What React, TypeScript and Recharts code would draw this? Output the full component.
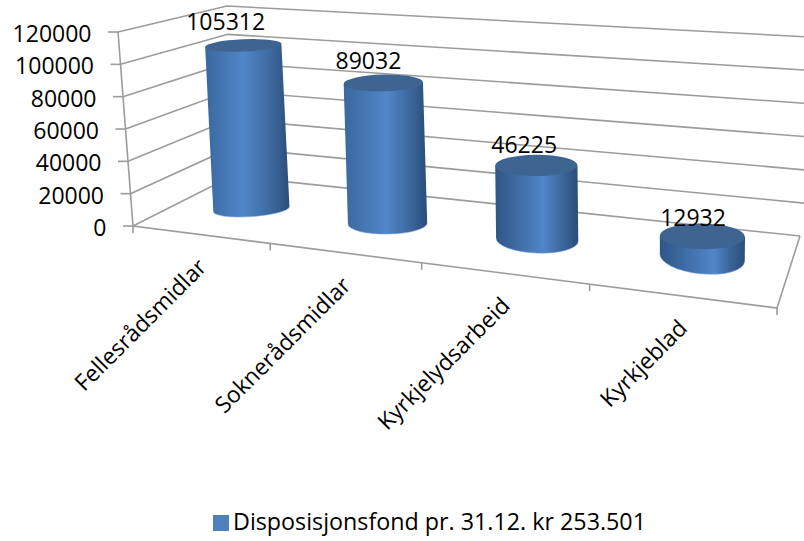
import { BarChart, Bar, XAxis, YAxis, CartesianGrid, Legend, LabelList } from "recharts"

const categories = ["Fellesrådsmidlar", "Soknerådsmidlar", "Kyrkjelydsarbeid", "Kyrkjeblad"]
const fondValues = [105312, 89032, 46225, 12932]
const yTicks = [0, 20000, 40000, 60000, 80000, 100000, 120000]
const seriesName = "Disposisjonsfond pr. 31.12. kr 253.501"

const rows = categories.map((name, i) => ({ name, value: fondValues[i] }))

const FONT = "'Open Sans', sans-serif"
const GRID = "#9c9c9c"
const PLOT_LEFT = 133
const PLOT_RIGHT = 777
const PLOT_TOP = 32
const PLOT_BOTTOM = 226
const PLOT_W = PLOT_RIGHT - PLOT_LEFT
const PLOT_H = PLOT_BOTTOM - PLOT_TOP
const BAR_DEPTH = 0.5

const lerp = (a: number, b: number, t: number) => a + (b - a) * t

// floor of the 3d box, front left / front right / back right / back left
const FL = [133, 226]
const FR = [777, 308]
const BR = [800, 236]
const BL = [232, 176]

const dx1 = FR[0] - BR[0]
const dx2 = BL[0] - BR[0]
const dx3 = FL[0] - FR[0] + BR[0] - BL[0]
const dy1 = FR[1] - BR[1]
const dy2 = BL[1] - BR[1]
const dy3 = FL[1] - FR[1] + BR[1] - BL[1]
const den = dx1 * dy2 - dx2 * dy1
const g = (dx3 * dy2 - dx2 * dy3) / den
const h = (dx1 * dy3 - dx3 * dy1) / den

function floorPoint(u: number, d: number) {
  const w = g * u + h * d + 1
  return {
    x: ((FR[0] - FL[0] + g * FR[0]) * u + (BL[0] - FL[0] + h * BL[0]) * d + FL[0]) / w,
    y: ((FR[1] - FL[1] + g * FR[1]) * u + (BL[1] - FL[1] + h * BL[1]) * d + FL[1]) / w,
  }
}

// v is the value height from 0 to 1
const frontLeft = (v: number) => ({ x: lerp(133, 118, v), y: lerp(226, 32, v) })
const backLeft = (v: number) => ({ x: lerp(232, 227, v), y: lerp(176, 6, v) })
const backRight = (v: number) => ({ x: 804, y: lerp(236.4, 36.7, v) })

const pts = (list: { x: number; y: number }[]) => list.map((p) => `${p.x},${p.y}`).join(" ")

function cylinder(x: number, y: number, width: number, height: number) {
  const u = (x + width / 2 - PLOT_LEFT) / PLOT_W
  const v = height / PLOT_H
  const floor = floorPoint(u, BAR_DEPTH)
  const base = { x: floor.x + 2, y: floor.y + lerp(3, -2, u) }
  const rx = (width / 2) * lerp(0.88, 1.02, u)
  const top = { x: base.x - lerp(11, -3, u) * v, y: base.y - lerp(185, 197, u) * v }
  return {
    u,
    base,
    top,
    rx,
    baseRy: 6 + 12 * u,
    topRy: lerp(5, 14, u),
    baseTilt: -5.5 + 12.5 * u,
    topTilt: -3 + 4.5 * u,
  }
}

function Cylinder(props: any) {
  const { x, y, width, height, index } = props
  const c = cylinder(x, y, width, height)
  const side = (p: { x: number; y: number }, deg: number, s: number) => {
    const a = (deg * Math.PI) / 180
    return `${p.x + s * c.rx * Math.cos(a)} ${p.y + s * c.rx * Math.sin(a)}`
  }
  const id = `body-${index}`
  const peak = 0.42 + 0.25 * c.u
  const bottomArc = `${side(c.base, c.baseTilt, -1)} A ${c.rx} ${c.baseRy} ${c.baseTilt} 0 0 ${side(c.base, c.baseTilt, 1)}`
  return (
    <g>
      <defs>
        <linearGradient id={id} x1="0" y1="0" x2="1" y2="0">
          <stop offset="0" stopColor={c.u < 0.5 ? "#3a689f" : "#2e5586"} />
          <stop offset={peak} stopColor="#5186c8" />
          <stop offset="0.82" stopColor="#3a6599" />
          <stop offset="1" stopColor="#2b4d79" />
        </linearGradient>
      </defs>
      <path
        d={`M ${side(c.top, c.topTilt, -1)} L ${bottomArc} L ${side(c.top, c.topTilt, 1)} Z`}
        fill={`url(#${id})`}
      />
      <path d={`M ${bottomArc}`} fill="none" stroke="#6fa3e2" strokeOpacity={0.5} strokeWidth={1} />
      <ellipse
        cx={c.top.x}
        cy={c.top.y}
        rx={c.rx}
        ry={c.topRy}
        fill="#3e6592"
        transform={`rotate(${c.topTilt} ${c.top.x} ${c.top.y})`}
      />
    </g>
  )
}

function ValueLabel(props: any) {
  const box = props.viewBox ?? props
  const c = cylinder(box.x, box.y, box.width, box.height)
  return (
    <text
      x={c.top.x + lerp(-19, -8, c.u)}
      y={c.top.y - lerp(25, 19, c.u)}
      textAnchor="middle"
      dominantBaseline="central"
      fontFamily={FONT}
      fontSize={23}
      fill="#000"
    >
      {props.value}
    </text>
  )
}

function GridLine(props: any) {
  const v = (PLOT_BOTTOM - props.y1) / PLOT_H
  if (v < 0.001) {
    return (
      <g key={props.key ?? props.index}>
        <polyline points={pts([frontLeft(0), backLeft(0), { x: BR[0], y: BR[1] }])} fill="none" stroke={GRID} strokeWidth={1.6} />
        <polyline points={pts([{ x: BR[0], y: BR[1] }, { x: FR[0], y: FR[1] }, { x: FL[0], y: FL[1] }, frontLeft(1)])} fill="none" stroke={GRID} strokeWidth={1.6} />
      </g>
    )
  }
  return (
    <polyline
      key={props.key ?? props.index}
      points={pts([frontLeft(v), backLeft(v), backRight(v)])}
      fill="none"
      stroke={GRID}
      strokeWidth={1.6}
    />
  )
}

function ValueTick(props: any) {
  const v = (PLOT_BOTTOM - props.y) / PLOT_H
  const p = frontLeft(v)
  return (
    <g>
      <line x1={p.x - 10} y1={p.y} x2={p.x} y2={p.y} stroke={GRID} strokeWidth={1.6} />
      <text x={p.x - 26.5} y={p.y + 1} textAnchor="end" dominantBaseline="central" fontFamily={FONT} fontSize={23} fill="#000">
        {props.payload.value}
      </text>
    </g>
  )
}

function CategoryTick(props: any) {
  const u = (props.x - PLOT_LEFT) / PLOT_W
  const step = 1 / categories.length
  const mid = floorPoint(u, 0)
  const marks = [u - step / 2]
  if (props.index === categories.length - 1) marks.push(u + step / 2)
  return (
    <g>
      {marks.map((m) => {
        const p = floorPoint(m, 0)
        return <line key={m} x1={p.x} y1={p.y} x2={p.x} y2={p.y + 7} stroke={GRID} strokeWidth={1.6} />
      })}
      <text
        x={mid.x + 8}
        y={mid.y + 34}
        textAnchor="end"
        fontFamily={FONT}
        fontSize={22.8}
        fill="#000"
        transform={`rotate(-45 ${mid.x + 8} ${mid.y + 34})`}
      >
        {props.payload.value}
      </text>
    </g>
  )
}

function LegendRow(props: any) {
  const item = props.payload?.[0]
  if (!item) return null
  return (
    <svg width={804} height={40} style={{ display: "block" }}>
      <rect x={213} y={14} width={16} height={16} fill={item.color} />
      <text x={233} y={29} fontFamily={FONT} fontSize={23} textLength={413} lengthAdjust="spacingAndGlyphs" fill="#000">
        {item.value}
      </text>
    </svg>
  )
}

export default function App() {
  return (
    <div style={{ position: "absolute", left: 0, top: 0, background: "#fff" }}>
      <BarChart
        width={804}
        height={541}
        data={rows}
        margin={{ top: PLOT_TOP, right: 804 - PLOT_RIGHT, left: 33, bottom: 75 }}
        barSize={85}
      >
        <CartesianGrid vertical={false} horizontal={GridLine as any} />
        <XAxis dataKey="name" height={200} axisLine={false} tickLine={false} interval={0} tick={CategoryTick as any} />
        <YAxis width={100} domain={[0, 120000]} ticks={yTicks} axisLine={false} tickLine={false} interval={0} tick={ValueTick as any} />
        <Legend verticalAlign="bottom" height={40} wrapperStyle={{ left: 0, bottom: 0, width: 804 }} content={LegendRow as any} />
        <Bar dataKey="value" name={seriesName} fill="#4f81bd" isAnimationActive={false} shape={Cylinder as any}>
          <LabelList dataKey="value" content={ValueLabel as any} />
        </Bar>
      </BarChart>
    </div>
  )
}
